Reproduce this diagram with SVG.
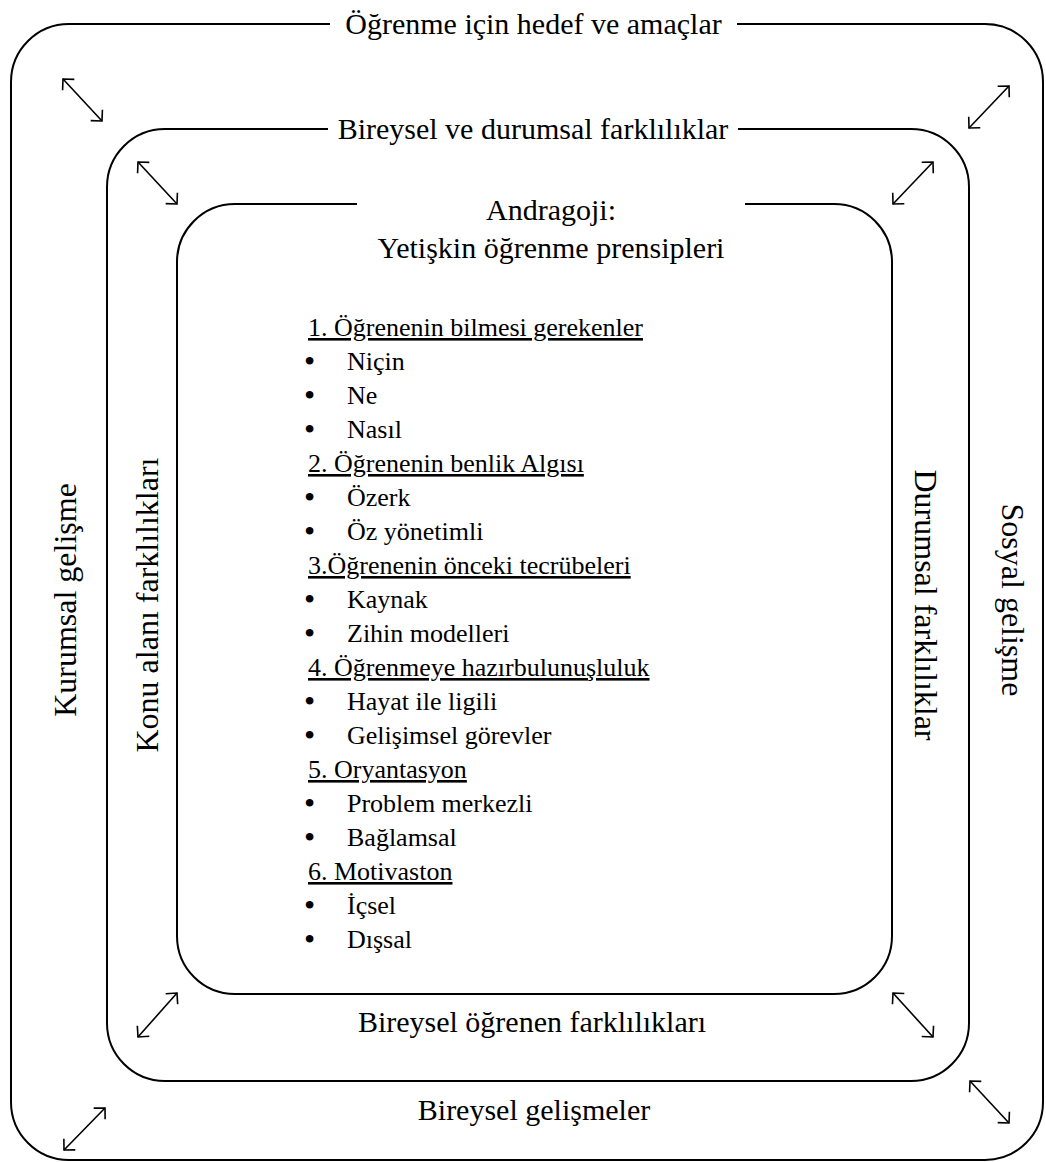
<svg xmlns="http://www.w3.org/2000/svg" width="1046" height="1162" viewBox="0 0 1046 1162">
  <style>
    .frame { fill: none; stroke: #000; stroke-width: 2; }
    .arrow { fill: none; stroke: #000; stroke-width: 1.6; marker-start: url(#head); marker-end: url(#head); }
    .title { font-family: 'Liberation Serif', serif; font-size: 30px; text-anchor: middle; fill: #000; }
    .side { font-family: 'Liberation Serif', serif; font-size: 32px; text-anchor: middle; fill: #000; }
    .item { font-family: 'Liberation Serif', serif; font-size: 26px; fill: #000; }
    .dot { font-family: 'Liberation Serif', serif; font-size: 32px; fill: #000; }
    .head { font-family: 'Liberation Serif', serif; font-size: 26px; fill: #000; text-decoration: underline; }
  </style>
  <defs>
    <!-- open arrowhead shared by both ends of every two-way arrow -->
    <marker id="head" markerUnits="userSpaceOnUse" viewBox="0 0 20 20" markerWidth="20" markerHeight="20" refX="10" refY="10" orient="auto-start-reverse" overflow="visible">
      <path d="M2,2 L10,10 L2,18" fill="none" stroke="#000" stroke-width="1.6"/>
    </marker>
  </defs>

  <rect width="1046" height="1162" fill="#fff"/>

  <!-- outer frame: goals and aims -->
  <g id="outer">
    <path class="frame" d="M737,24 H985 A58,58 0 0 1 1043,82 V1102 A58,58 0 0 1 985,1160 H69 A58,58 0 0 1 11,1102 V82 A58,58 0 0 1 69,24 H330"/>
    <text class="title" font-family="Liberation Serif" x="533.5" y="34">Öğrenme için hedef ve amaçlar</text>
    <text class="title" font-family="Liberation Serif" x="534" y="1120">Bireysel gelişmeler</text>
    <text class="side" font-family="Liberation Serif" transform="translate(76,600) rotate(-90)">Kurumsal gelişme</text>
    <text class="side" font-family="Liberation Serif" transform="translate(1002,600) rotate(90)">Sosyal gelişme</text>
  </g>

  <!-- middle frame: individual and situational differences -->
  <g id="middle">
    <path class="frame" d="M738,129 H911 A58,58 0 0 1 969,187 V1023 A58,58 0 0 1 911,1081 H165 A58,58 0 0 1 107,1023 V187 A58,58 0 0 1 165,129 H328"/>
    <text class="title" font-family="Liberation Serif" x="533" y="139">Bireysel ve durumsal farklılıklar</text>
    <text class="title" font-family="Liberation Serif" x="532" y="1032">Bireysel öğrenen farklılıkları</text>
    <text class="side" font-family="Liberation Serif" transform="translate(158,605) rotate(-90)">Konu alanı farklılıkları</text>
    <text class="side" font-family="Liberation Serif" transform="translate(915,605) rotate(90)">Durumsal farklılıklar</text>
  </g>

  <!-- inner frame: andragogy principles -->
  <g id="inner">
    <path class="frame" d="M745,204 H834 A58,58 0 0 1 892,262 V936 A58,58 0 0 1 834,994 H235 A58,58 0 0 1 177,936 V262 A58,58 0 0 1 235,204 H357"/>
    <text class="title" font-family="Liberation Serif" x="551" y="220">Andragoji:</text>
    <text class="title" font-family="Liberation Serif" x="551" y="258">Yetişkin öğrenme prensipleri</text>
    <text class="head" font-family="Liberation Serif" x="308" y="336">1. Öğrenenin bilmesi gerekenler</text>
    <text class="dot" font-family="Liberation Serif" x="304" y="372">•</text><text class="item" font-family="Liberation Serif" x="347" y="370">Niçin</text>
    <text class="dot" font-family="Liberation Serif" x="304" y="406">•</text><text class="item" font-family="Liberation Serif" x="347" y="404">Ne</text>
    <text class="dot" font-family="Liberation Serif" x="304" y="440">•</text><text class="item" font-family="Liberation Serif" x="347" y="438">Nasıl</text>
    <text class="head" font-family="Liberation Serif" x="308" y="472">2. Öğrenenin benlik Algısı</text>
    <text class="dot" font-family="Liberation Serif" x="304" y="508">•</text><text class="item" font-family="Liberation Serif" x="347" y="506">Özerk</text>
    <text class="dot" font-family="Liberation Serif" x="304" y="542">•</text><text class="item" font-family="Liberation Serif" x="347" y="540">Öz yönetimli</text>
    <text class="head" font-family="Liberation Serif" x="308" y="574">3.Öğrenenin önceki tecrübeleri</text>
    <text class="dot" font-family="Liberation Serif" x="304" y="610">•</text><text class="item" font-family="Liberation Serif" x="347" y="608">Kaynak</text>
    <text class="dot" font-family="Liberation Serif" x="304" y="644">•</text><text class="item" font-family="Liberation Serif" x="347" y="642">Zihin modelleri</text>
    <text class="head" font-family="Liberation Serif" x="308" y="676">4. Öğrenmeye hazırbulunuşluluk</text>
    <text class="dot" font-family="Liberation Serif" x="304" y="712">•</text><text class="item" font-family="Liberation Serif" x="347" y="710">Hayat ile ligili</text>
    <text class="dot" font-family="Liberation Serif" x="304" y="746">•</text><text class="item" font-family="Liberation Serif" x="347" y="744">Gelişimsel görevler</text>
    <text class="head" font-family="Liberation Serif" x="308" y="778">5. Oryantasyon</text>
    <text class="dot" font-family="Liberation Serif" x="304" y="814">•</text><text class="item" font-family="Liberation Serif" x="347" y="812">Problem merkezli</text>
    <text class="dot" font-family="Liberation Serif" x="304" y="848">•</text><text class="item" font-family="Liberation Serif" x="347" y="846">Bağlamsal</text>
    <text class="head" font-family="Liberation Serif" x="308" y="880">6. Motivaston</text>
    <text class="dot" font-family="Liberation Serif" x="304" y="916">•</text><text class="item" font-family="Liberation Serif" x="347" y="914">İçsel</text>
    <text class="dot" font-family="Liberation Serif" x="304" y="950">•</text><text class="item" font-family="Liberation Serif" x="347" y="948">Dışsal</text>
  </g>

  <!-- two-way arrows between the frames -->
  <g id="connectors">
    <line class="arrow" x1="63" y1="79" x2="102" y2="121"/>
    <line class="arrow" x1="1009" y1="86" x2="969" y2="128"/>
    <line class="arrow" x1="64" y1="1150" x2="105" y2="1108"/>
    <line class="arrow" x1="970" y1="1081" x2="1009" y2="1123"/>
    <line class="arrow" x1="138" y1="162" x2="177" y2="204"/>
    <line class="arrow" x1="933" y1="162" x2="893" y2="204"/>
    <line class="arrow" x1="177" y1="993" x2="138" y2="1037"/>
    <line class="arrow" x1="893" y1="993" x2="933" y2="1037"/>
  </g>
</svg>
